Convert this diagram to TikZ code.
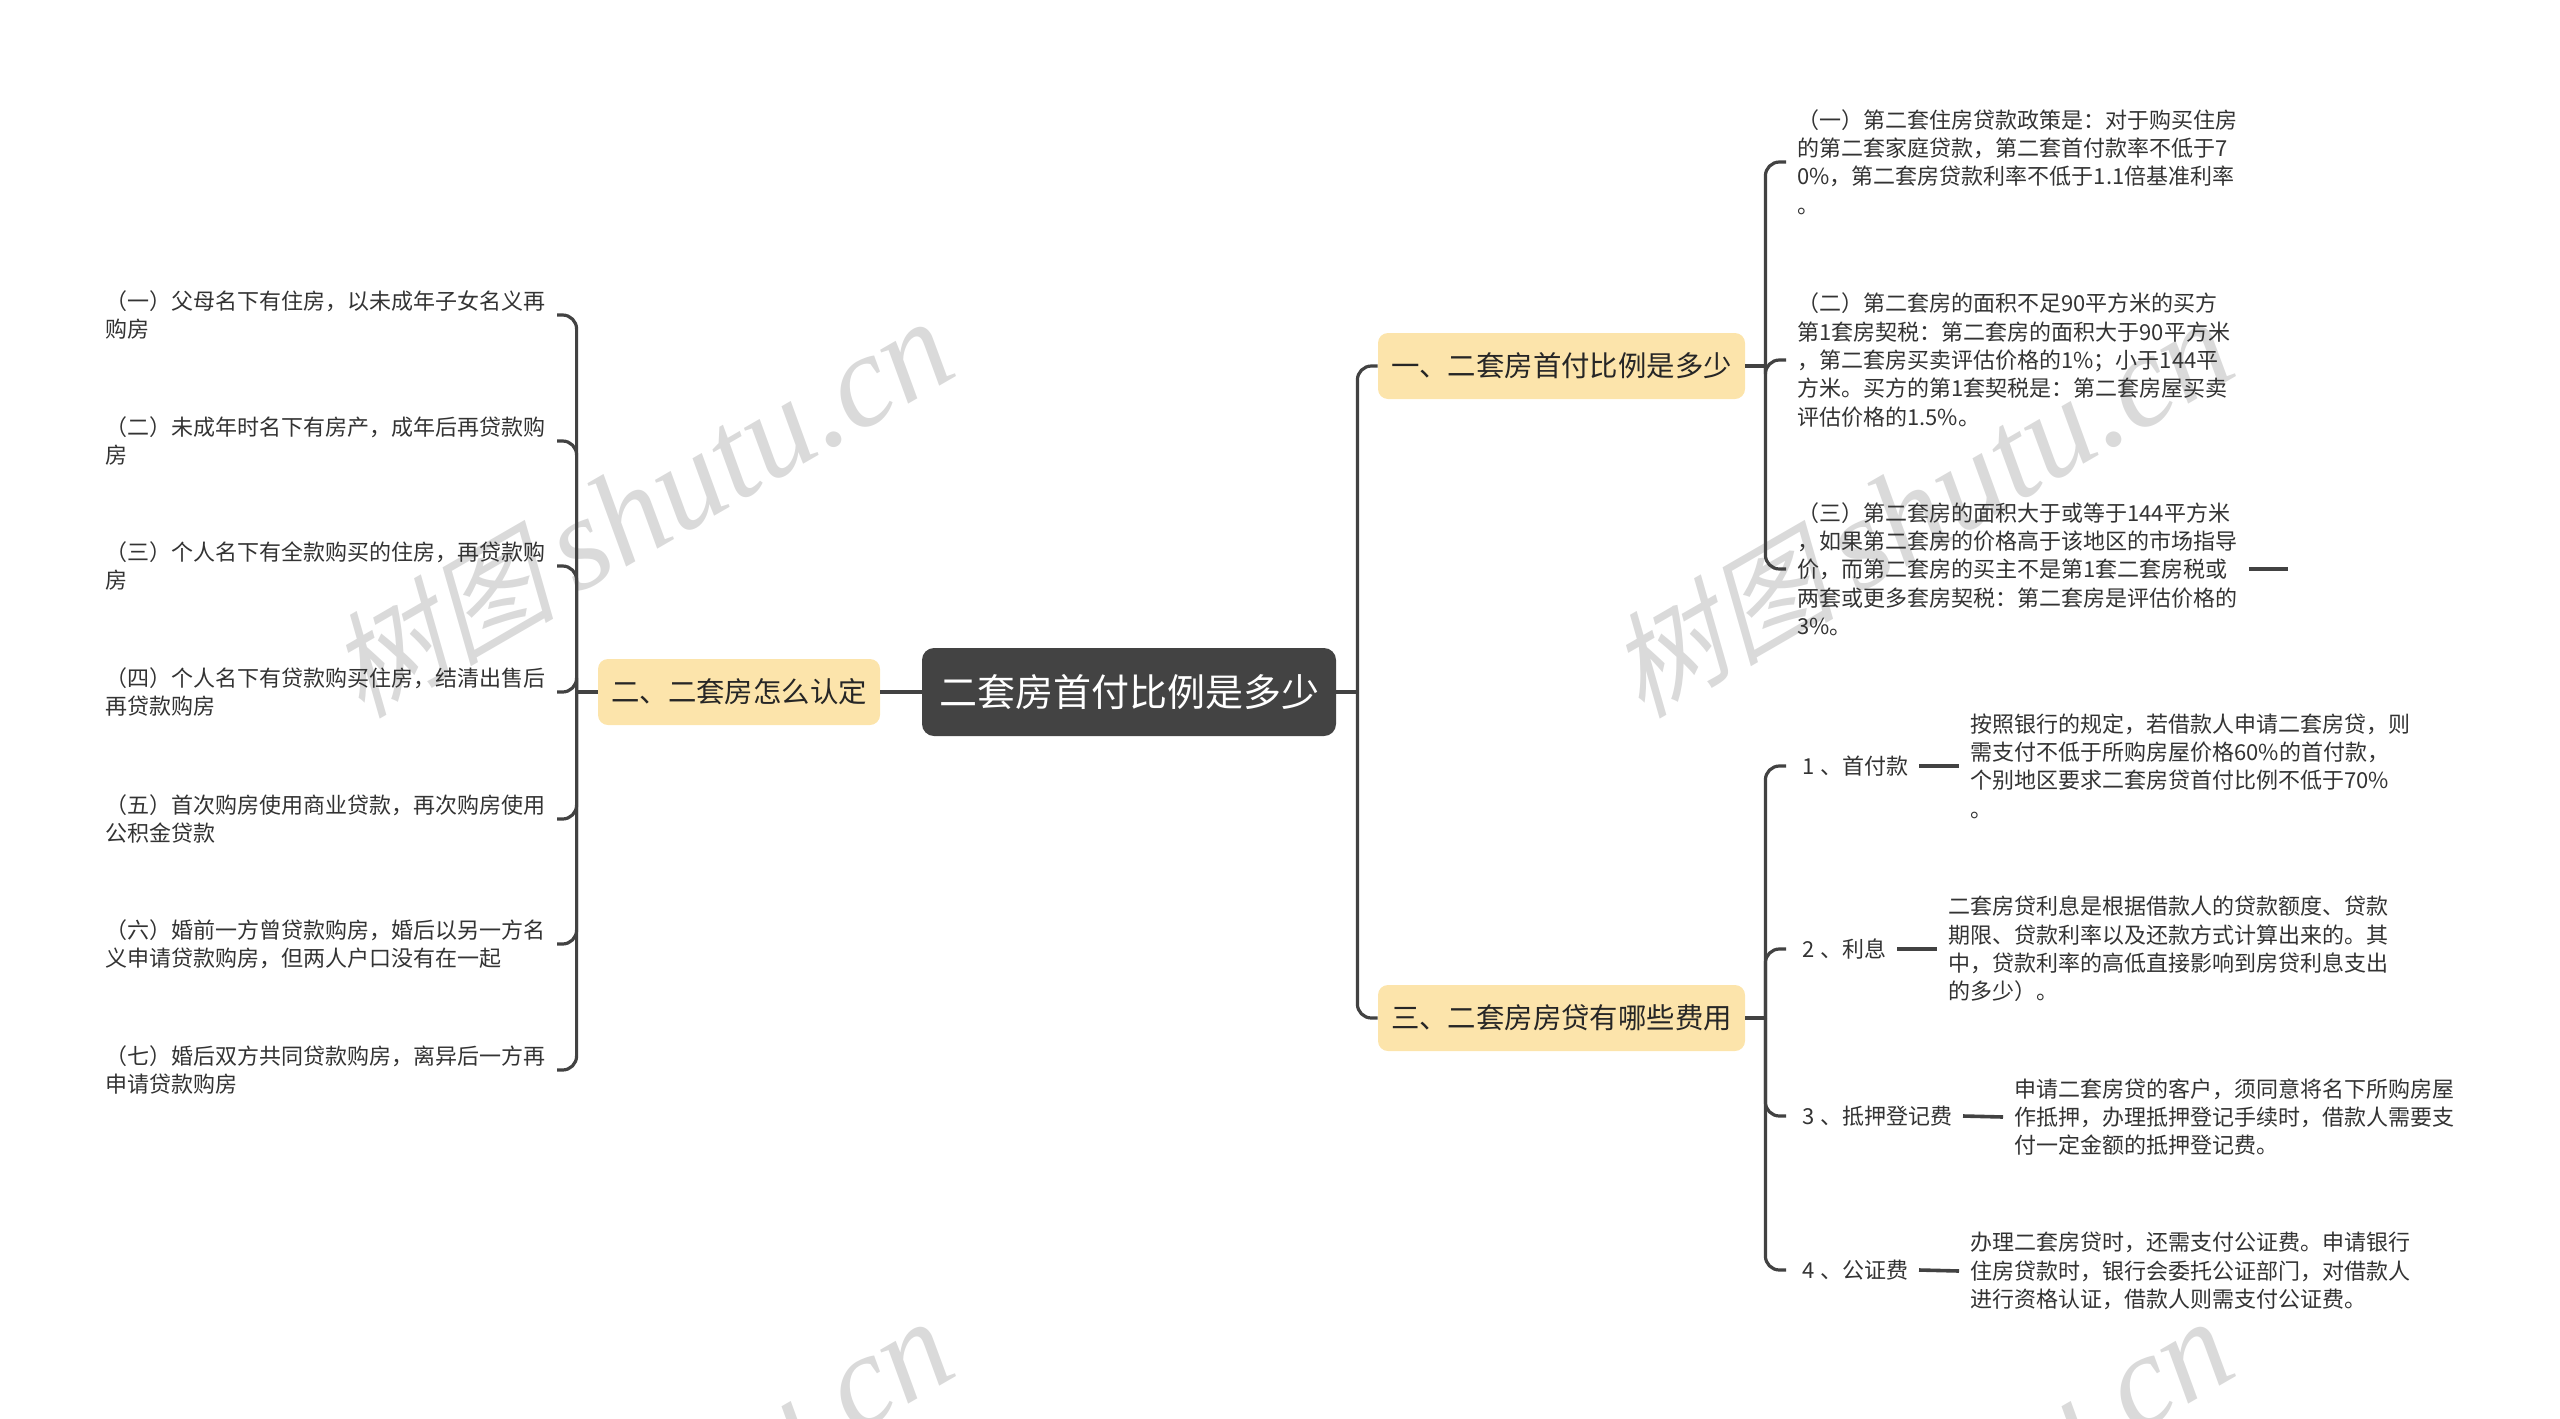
\documentclass[tikz,border=0pt]{standalone}
\usepackage{fontspec}
\setmainfont{Noto Sans CJK SC}
\newfontfamily\wmcjk[FakeSlant=0.25]{Noto Sans CJK SC}
\newfontfamily\wmlat{Liberation Serif}
\definecolor{inkline}{HTML}{424242}
\definecolor{rootfill}{HTML}{434343}
\definecolor{branchfill}{HTML}{FCE4AB}
\definecolor{leafink}{HTML}{333333}
\definecolor{wmgray}{HTML}{DADADA}
\newcommand{\wmtext}{{\wmcjk\fontsize{57}{62}\selectfont 树图}{\wmlat\itshape\fontsize{66}{66}\selectfont\,shutu.cn}}
\tikzset{
  rootbox/.style={fill=rootfill,text=white,rounded corners=6pt,minimum width=207pt,minimum height=44pt,inner sep=0pt,font=\fontsize{19}{22}\selectfont},
  branchbox/.style={fill=branchfill,text=black!85,rounded corners=5pt,minimum height=33pt,inner sep=0pt,font=\fontsize{14.2}{17}\selectfont},
  leaftext/.style={align=left,text=leafink,inner xsep=5.5pt,inner ysep=0pt,font=\fontsize{11}{14.15}\selectfont},
  labeltext/.style={text=leafink,inner xsep=8pt,inner ysep=0pt,font=\fontsize{11}{14.15}\selectfont},
  link/.style={draw=inkline,line width=1.6pt,rounded corners=7pt},
  stub/.style={draw=inkline,line width=1.8pt},
  wmark/.style={text=wmgray,rotate=30,inner sep=0pt}
}
\begin{document}
\begin{tikzpicture}[x=0.5pt,y=-0.5pt]
\useasboundingbox (0,0) rectangle (2560,1419);
\begin{scope}
\clip (0,0) rectangle (2560,1419);
\node[wmark] (wm1) at (640,509) {\wmtext};
\node[wmark] (wm2) at (1920,509) {\wmtext};
\node[wmark] (wm3) at (640,1509) {\wmtext};
\node[wmark] (wm4) at (1920,1509) {\wmtext};
\end{scope}

\node[rootbox] (root) at (1129,692) {二套房首付比例是多少};
\node[branchbox,minimum width=141pt] (bl) at (739,692) {二、二套房怎么认定};
\node[branchbox,minimum width=183.5pt] (ba) at (1561.5,366) {一、二套房首付比例是多少};
\node[branchbox,minimum width=183.5pt] (bc) at (1561.5,1018) {三、二套房房贷有哪些费用};

% left leaves
\node[leaftext,anchor=east] (l1) at (557,315) {（一）父母名下有住房，以未成年子女名义再\\购房};
\node[leaftext,anchor=east] (l2) at (557,441) {（二）未成年时名下有房产，成年后再贷款购\\房};
\node[leaftext,anchor=east] (l3) at (557,566) {（三）个人名下有全款购买的住房，再贷款购\\房};
\node[leaftext,anchor=east] (l4) at (557,692) {（四）个人名下有贷款购买住房，结清出售后\\再贷款购房};
\node[leaftext,anchor=east] (l5) at (557,819) {（五）首次购房使用商业贷款，再次购房使用\\公积金贷款};
\node[leaftext,anchor=east] (l6) at (557,944) {（六）婚前一方曾贷款购房，婚后以另一方名\\义申请贷款购房，但两人户口没有在一起};
\node[leaftext,anchor=east] (l7) at (557,1070) {（七）婚后双方共同贷款购房，离异后一方再\\申请贷款购房};

% upper right leaves
\node[leaftext,anchor=west] (a1) at (1786,162) {（一）第二套住房贷款政策是：对于购买住房\\的第二套家庭贷款，第二套首付款率不低于7\\0\%，第二套房贷款利率不低于1.1倍基准利率\\。};
\node[leaftext,anchor=west] (a2) at (1786,360) {（二）第二套房的面积不足90平方米的买方\\第1套房契税：第二套房的面积大于90平方米\\，第二套房买卖评估价格的1\%；小于144平\\方米。买方的第1套契税是：第二套房屋买卖\\评估价格的1.5\%。};
\node[leaftext,anchor=west] (a3) at (1786,569) {（三）第二套房的面积大于或等于144平方米\\，如果第二套房的价格高于该地区的市场指导\\价，而第二套房的买主不是第1套二套房税或\\两套或更多套房契税：第二套房是评估价格的\\3\%。};
\coordinate (a3end) at (2288,569);

% lower right labels and details
\node[labeltext,anchor=west] (c1) at (1786,766) {1\kern3pt、首付款\kern-3pt};
\node[labeltext,anchor=west] (c2) at (1786,949) {2\kern3pt、利息\kern-3pt};
\node[labeltext,anchor=west] (c3) at (1786,1116) {3\kern3pt、抵押登记费\kern-3pt};
\node[labeltext,anchor=west] (c4) at (1786,1270) {4\kern3pt、公证费\kern-3pt};
\node[leaftext,anchor=west] (d1) at (1959,766) {按照银行的规定，若借款人申请二套房贷，则\\需支付不低于所购房屋价格60\%的首付款，\\个别地区要求二套房贷首付比例不低于70\%\\。};
\node[leaftext,anchor=west] (d2) at (1937,949) {二套房贷利息是根据借款人的贷款额度、贷款\\期限、贷款利率以及还款方式计算出来的。其\\中，贷款利率的高低直接影响到房贷利息支出\\的多少）。};
\node[leaftext,anchor=west] (d3) at (2003,1117) {申请二套房贷的客户，须同意将名下所购房屋\\作抵押，办理抵押登记手续时，借款人需要支\\付一定金额的抵押登记费。};
\node[leaftext,anchor=west] (d4) at (1959,1271) {办理二套房贷时，还需支付公证费。申请银行\\住房贷款时，银行会委托公证部门，对借款人\\进行资格认证，借款人则需支付公证费。};

% connectors: stubs into the trunks, then trunk branches
\draw[stub] (bl.east) -- (root.west);
\draw[stub] (root.east) -- ++(21,0) coordinate (trunkR);
\draw[stub] (bl.west) -- ++(-21,0) coordinate (trunkL);
\draw[stub] (ba.east) -- ++(20,0) coordinate (trunkA);
\draw[stub] (bc.east) -- ++(20,0) coordinate (trunkC);
\foreach \t in {ba,bc} \draw[link] (trunkR) |- (\t.west);
\foreach \t in {l1,l2,l3,l4,l5,l6,l7} \draw[link] (trunkL) |- (\t.east);
\foreach \t in {a1,a2,a3} \draw[link] (trunkA) |- (\t.west);
\foreach \t in {c1,c2,c3,c4} \draw[link] (trunkC) |- (\t.west);
\draw[stub] (a3.east) -- (a3end);
\draw[stub] (c1.east) -- (d1.west);
\draw[stub] (c2.east) -- (d2.west);
\draw[stub] (c3.east) -- (d3.west);
\draw[stub] (c4.east) -- (d4.west);
\end{tikzpicture}
\end{document}
